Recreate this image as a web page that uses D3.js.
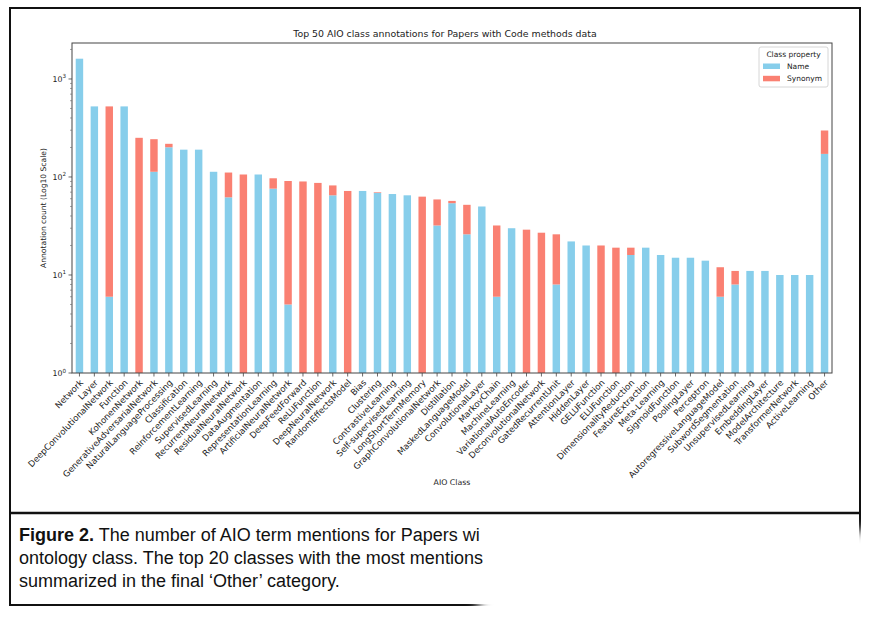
<!DOCTYPE html>
<meta charset="utf-8">
<style>
body{margin:0; background:#fff;}
svg text{font-family:"DejaVu Sans", sans-serif; fill:#222;}
.caption{font-family:"Liberation Sans Narrow","Liberation Sans",Arial,sans-serif !important; font-size:18px; fill:#111 !important;}
</style>
<svg id="chart" width="876" height="624"></svg>
<script src="https://d3js.org/d3.v7.min.js"></script>
<script>
// class names, in the order they were plotted
const classes = ["Network","Layer","DeepConvolutionalNetwork","Function","KohonenNetwork",
  "GenerativeAdversarialNetwork","NaturalLanguageProcessing","Classification","ReinforcementLearning",
  "SupervisedLearning","RecurrentNeuralNetwork","ResidualNeuralNetwork","DataAugmentation",
  "RepresentationLearning","ArtificialNeuralNetwork","DeepFeedForward","ReLUFunction",
  "DeepNeuralNetwork","RandomEffectsModel","Bias","Clustering","ContrastiveLearning",
  "Self-supervisedLearning","LongShortTermMemory","GraphConvolutionalNetwork","Distillation",
  "MaskedLanguageModel","ConvolutionalLayer","MarkovChain","MachineLearning",
  "VariationalAutoEncoder","DeconvolutionalNetwork","GatedRecurrentUnit","AttentionLayer",
  "HiddenLayer","GELUFunction","ELUFunction","DimensionalityReduction","FeatureExtraction",
  "Meta-Learning","SigmoidFunction","PoolingLayer","Perceptron","AutoregressiveLanguageModel",
  "SubwordSegmentation","UnsupervisedLearning","EmbeddingLayer","ModelArchitecture",
  "TransformerNetwork","ActiveLearning","Other"]

// counts (log axis, so rough)
const nameCounts = [1610,525,6,525,0,113,201,190,190,113,62,0,106,76,5,0,0,65,0,72,69,67,65,0,32,54,
  26,50,6,30,0,0,8,22,20,0,0,16,19,16,15,15,14,6,8,11,11,10,10,10,172]
const synonymCounts = [0,0,519,0,251,130,17,0,0,0,49,106,0,21,86,90,87,17,72,0,1,0,0,63,27,3,
  26,0,26,0,29,27,18,0,0,20,19,3,0,0,0,0,0,6,3,0,0,0,0,0,126]

const seriesKeys = ["Name","Synonym"]
const seriesColors = ["#87ceeb","#fa8072"]
const yTicks = [1,10,100,1000]

const svg = d3.select('#chart')
const pLeft = 72, pRight = 832, pTop = 43, pBottom = 373

// outer frame and caption box
svg.append('rect').attr('x',10).attr('y',8).attr('width',850).attr('height',597)
  .attr('fill','none').attr('stroke','#111').attr('stroke-width',2)
svg.append('line').attr('x1',10).attr('x2',860).attr('y1',513).attr('y2',513)
  .attr('stroke','#111').attr('stroke-width',2.5)

let rows = classes.map((c,i) => ({cls:c, Name:nameCounts[i], Synonym:synonymCounts[i]}))
let stacked = d3.stack().keys(seriesKeys)(rows)

let x = d3.scaleBand().domain(classes).range([pLeft,pRight]).paddingInner(0.5).paddingOuter(0.25)
let y = d3.scaleLog().domain([1, Math.pow(10,3.367)]).range([pBottom,pTop]).clamp(true)

let g = svg.append('g')
g.selectAll('g.series').data(stacked).enter().append('g')
  .attr('class','series')
  .attr('fill',(d,i) => seriesColors[i])
  .selectAll('rect').data(d => d.filter(p => p[1] > p[0])).enter().append('rect')
  .attr('x', d => x(d.data.cls))
  .attr('width', x.bandwidth())
  .attr('y', d => y(d[1]))
  .attr('height', d => y(Math.max(1,d[0])) - y(d[1]))

// axes frame
svg.append('rect').attr('x',pLeft).attr('y',pTop).attr('width',pRight-pLeft).attr('height',pBottom-pTop)
  .attr('fill','none').attr('stroke','#444').attr('stroke-width',1)

svg.append('text').attr('x',(pLeft+pRight)/2 - 7).attr('y',37).attr('text-anchor','middle')
  .style('font-size','9.4px').text('Top 50 AIO class annotations for Papers with Code methods data')

// x axis
let xAxis = svg.append('g')
classes.forEach(c => {
  let cx = x(c) + x.bandwidth()/2
  xAxis.append('line').attr('x1',cx).attr('x2',cx).attr('y1',pBottom).attr('y2',pBottom+3.5)
    .attr('stroke','#444').attr('stroke-width',0.8)
  xAxis.append('text').attr('transform',`translate(${cx+2},${pBottom+8}) rotate(-46)`)
    .attr('text-anchor','end').attr('dy','0.35em')
    .style('font-size','8.6px').text(c)
})
svg.append('text').attr('x',(pLeft+pRight)/2).attr('y',485).attr('text-anchor','middle')
  .style('font-size','7.8px').text('AIO Class')

// y axis, major and minor ticks
let yAxis = svg.append('g')
yTicks.forEach(t => {
  yAxis.append('line').attr('x1',pLeft-3.5).attr('x2',pLeft).attr('y1',y(t)).attr('y2',y(t))
    .attr('stroke','#444').attr('stroke-width',0.8)
  let lbl = yAxis.append('text').attr('x',pLeft-6).attr('y',y(t)+3).attr('text-anchor','end')
    .style('font-size','7.8px')
  lbl.append('tspan').text('10')
  lbl.append('tspan').attr('dy',-3.5).style('font-size','5.6px').text(Math.log10(t))
  for (let m = 2; m < 10; m++) {
    let v = t*m
    if (v > y.domain()[1]) break
    yAxis.append('line').attr('x1',pLeft-2).attr('x2',pLeft).attr('y1',y(v)).attr('y2',y(v))
      .attr('stroke','#666').attr('stroke-width',0.6)
  }
})
svg.append('text').attr('transform',`translate(46,${(pTop+pBottom)/2}) rotate(-90)`)
  .attr('text-anchor','middle').style('font-size','7.6px').text('Annotation count (Log10 Scale)')

// legend
let lg = svg.append('g')
lg.append('rect').attr('x',759).attr('y',47).attr('width',69).attr('height',40).attr('rx',2)
  .attr('fill','#fff').attr('stroke','#ccc').attr('stroke-width',0.8)
lg.append('text').attr('x',793.5).attr('y',57).attr('text-anchor','middle')
  .style('font-size','7.5px').text('Class property')
seriesKeys.forEach((k,i) => {
  lg.append('rect').attr('x',763).attr('y',63.5+i*12.3).attr('width',17).attr('height',5.5)
    .attr('fill',seriesColors[i])
  lg.append('text').attr('x',787).attr('y',69+i*12.3).style('font-size','7.5px').text(k)
})

// caption
let cap = svg.append('g')
let l1 = cap.append('text').attr('class','caption').attr('x',19).attr('y',541)
l1.append('tspan').style('font-weight','bold').text('Figure 2.')
l1.append('tspan').text(' The number of AIO term mentions for Papers wi')
cap.append('text').attr('class','caption').attr('x',19).attr('y',564)
  .text('ontology class. The top 20 classes with the most mentions')
cap.append('text').attr('class','caption').attr('x',19).attr('y',587)
  .text('summarized in the final \u2018Other\u2019 category.')

// white smudge that covers the right end of the caption in the source
let defs = svg.append('defs')
defs.append('filter').attr('id','blur').attr('x','-20%').attr('y','-20%').attr('width','140%').attr('height','140%')
  .append('feGaussianBlur').attr('stdDeviation',6)
svg.append('path')
  .attr('d','M478,624 L478,600 L505,565 L560,545 L640,535 L876,530 L876,624 Z')
  .attr('fill','#fff').attr('filter','url(#blur)')
</script>
